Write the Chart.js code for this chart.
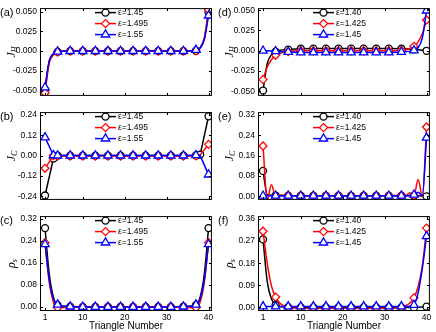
<!DOCTYPE html>
<html>
<head>
<meta charset="utf-8">
<script src="https://cdn.jsdelivr.net/npm/chart.js@4.4.1/dist/chart.umd.min.js"></script>
<style>
  body { margin: 0; background: #fff; }
  #wrap { position: relative; width: 436px; height: 332px; }
  #wrap canvas { position: absolute; }
</style>
</head>
<body>
<div id="wrap">
  <canvas id="pa" width="218" height="104" style="left:0;top:0;width:218px;height:104px"></canvas>
  <canvas id="pb" width="218" height="104" style="left:0;top:104px;width:218px;height:104px"></canvas>
  <canvas id="pc" width="218" height="124" style="left:0;top:208px;width:218px;height:124px"></canvas>
  <canvas id="pd" width="218" height="104" style="left:218px;top:0;width:218px;height:104px"></canvas>
  <canvas id="pe" width="218" height="104" style="left:218px;top:104px;width:218px;height:104px"></canvas>
  <canvas id="pf" width="218" height="124" style="left:218px;top:208px;width:218px;height:124px"></canvas>
</div>
<script>
// legende
var epsLeft = ['ε=1.45', 'ε=1.495', 'ε=1.55'];
var epsRight = ['ε=1.40', 'ε=1.425', 'ε=1.45'];

// etichette degli assi
var xTickLabels = ['1', '10', '20', '30', '40'];
var ticksJH = ['-0.050', '-0.025', '0.000', '0.025', '0.050'];
var ticksJCb = ['-0.24', '-0.12', '0.00', '0.12', '0.24'];
var ticksRhoC = ['0.00', '0.08', '0.16', '0.24', '0.32'];
var ticksJCe = ['0.00', '0.08', '0.16', '0.24', '0.32'];
var ticksRhoF = ['0.00', '0.09', '0.18', '0.27', '0.36'];

// triangoli con simbolo
var markX = [1, 4, 7, 10, 13, 16, 19, 22, 25, 28, 31, 34, 37, 40];
var markXb = [1, 3, 4, 7, 10, 13, 16, 19, 22, 25, 28, 31, 34, 37, 40];
var markXbBlack = [1, 3, 4, 7, 10, 13, 16, 19, 22, 25, 28, 31, 34, 37, 38, 40];

// (a) J_H
var xsA = [1, 2, 3, 4, 7, 10, 13, 16, 19, 22, 25, 28, 31, 34, 37, 38, 39, 40];
var aBlack = [-0.049, -0.013, -0.004, -0.001, 0, 0, 0, 0, 0, 0, 0, 0, 0, 0, 0.0005, 0.004, 0.016, 0.049];
var aRed = [-0.053, -0.015, -0.005, -0.0012, 0, 0, 0, 0, 0, 0, 0, 0, 0, 0, 0.0003, 0.004, 0.017, 0.052];
var aBlue = [-0.046, -0.012, -0.003, -0.0008, 0, 0, 0, 0, 0, 0, 0, 0, 0, 0, 0.0015, 0.004, 0.015, 0.045];

// (b) J_C
var xsB = [1, 3, 4, 7, 10, 13, 16, 19, 22, 25, 28, 31, 34, 37, 38, 40];
var bBlack = [-0.235, -0.017, 0, 0, 0, 0, 0, 0, 0, 0, 0, 0, 0, 0.001, 0.006, 0.231];
var bRed = [-0.075, 0, -0.003, -0.003, -0.003, -0.003, -0.003, -0.003, -0.003, -0.003, -0.003, -0.003, -0.003, -0.002, 0.004, 0.066];
var bBlue = [0.107, 0.002, 0, 0, 0, 0, 0, 0, 0, 0, 0, 0, 0, 0.002, 0, -0.112];

// (c) rho_s
var xsC = [1, 2, 3, 4, 7, 10, 13, 16, 19, 22, 25, 28, 31, 34, 37, 38, 39, 40];
var cBlack = [0.287, 0.12, 0.035, 0.006, 0.001, 0, 0, 0, 0, 0, 0, 0, 0, 0.001, 0.006, 0.035, 0.12, 0.287];
var cRed = [0.234, 0.09, 0.018, -0.003, -0.001, 0, 0, 0, 0, 0, 0, 0, 0, -0.001, -0.003, 0.018, 0.09, 0.234];
var cBlue = [0.228, 0.10, 0.03, 0.008, 0.001, 0, 0, 0, 0, 0, 0, 0, 0, 0.001, 0.008, 0.03, 0.10, 0.228];

// (d) J_H
var xsD = [1, 2, 3, 4, 7, 10, 13, 16, 19, 22, 25, 28, 31, 34, 37, 38, 39, 40];
var dBlack = [-0.049, -0.016, -0.005, -0.001, 0.0015, 0.0025, 0.0027, 0.0027, 0.0027, 0.0027, 0.0027, 0.0027, 0.0027, 0.0025, 0.0018, 0.0012, 0.0006, 0];
var dRed = [-0.0355, -0.02, -0.011, -0.0055, -0.001, 0, 0, 0, 0, 0, 0, 0, 0, 0.0005, 0.0055, 0.011, 0.021, 0.038];
var dBlue = [0, 0, -0.0003, -0.0006, -0.0015, -0.002, -0.002, -0.002, -0.002, -0.002, -0.002, -0.002, -0.002, -0.0015, 0.0005, 0.004, 0.016, 0.0495];

// (e) J_C
var xsE = [1, 2, 3, 4, 5, 7, 10, 13, 16, 19, 22, 25, 28, 31, 34, 35, 36, 37, 38, 39, 40];
var eBlack = [0.10, 0.006, 0.004, 0.003, 0.002, 0.002, 0.002, 0.002, 0.002, 0.002, 0.002, 0.002, 0.002, 0.002, 0.002, 0.002, 0.002, 0.002, 0.002, 0.001, 0];
var eRed = [0.198, -0.016, 0.045, 0, 0.005, 0.003, 0.002, 0.002, 0.002, 0.002, 0.002, 0.002, 0.002, 0.002, 0.004, 0.002, 0.014, 0.003, 0.066, -0.002, 0.273];
var eBlue = [0.002, 0.002, 0.002, 0.002, 0.002, 0.002, 0.002, 0.002, 0.002, 0.002, 0.002, 0.002, 0.002, 0.002, 0.002, 0.002, 0.004, 0.006, 0.016, 0.002, 0.231];

// (f) rho_s
var xsF = [1, 2, 3, 4, 5, 6, 7, 10, 13, 16, 19, 22, 25, 28, 31, 34, 35, 36, 37, 38, 39, 40];
var fBlack = [0.277, 0.105, 0.035, 0.01, 0.004, 0.002, 0.001, 0, 0, 0, 0, 0, 0, 0, 0, 0, 0, 0, 0, 0.001, 0.002, 0.003];
var fRed = [0.31, 0.18, 0.088, 0.042, 0.018, 0.006, 0.001, -0.003, -0.003, -0.003, -0.003, -0.003, -0.003, -0.003, -0.003, 0, 0.007, 0.018, 0.039, 0.085, 0.17, 0.323];
var fBlue = [0.004, 0.004, 0.004, 0.004, 0.004, 0.004, 0.004, 0.004, 0.004, 0.004, 0.004, 0.004, 0.004, 0.004, 0.004, 0.004, 0.004, 0.005, 0.01, 0.06, 0.16, 0.29];

var FONT = '"Liberation Sans", Arial, sans-serif';
var colori = ['#000000', '#ff0000', '#0000ff'];
var simboli = ['circle', 'rectRot', 'triangle'];
var raggi = [3.5, 4, 4.8];

// cornice, tacche interne, lettera, titolo asse y e legenda
var decor = {
    id: 'decor',
    afterDatasetsDraw: function (chart, args, o) {
        var ctx = chart.ctx, a = chart.chartArea;
        var sx = chart.scales.x, sy = chart.scales.y;
        ctx.save();
        ctx.strokeStyle = '#000';
        ctx.lineWidth = 1;
        ctx.strokeRect(a.left + 0.5, a.top + 0.5, a.right - a.left - 1, a.bottom - a.top - 1);
        ctx.beginPath();
        sy.ticks.forEach(function (t) {
            var py = Math.round(sy.getPixelForValue(t.value)) + 0.5;
            ctx.moveTo(a.left, py); ctx.lineTo(a.left + 3, py);
            ctx.moveTo(a.right, py); ctx.lineTo(a.right - 3, py);
        });
        sx.ticks.forEach(function (t) {
            var px = Math.round(sx.getPixelForValue(t.value)) + 0.5;
            ctx.moveTo(px, a.bottom); ctx.lineTo(px, a.bottom - 3);
            ctx.moveTo(px, a.top); ctx.lineTo(px, a.top + 3);
        });
        ctx.stroke();

        // lettera del pannello
        ctx.fillStyle = '#000';
        ctx.font = '11px ' + FONT;
        ctx.textAlign = 'left';
        ctx.textBaseline = 'middle';
        ctx.fillText(o.letter, 0, a.top + 4.5);

        // titolo asse y con pedice
        ctx.save();
        ctx.translate(12, (a.top + a.bottom) / 2);
        ctx.rotate(-Math.PI / 2);
        ctx.font = 'italic 12px "Liberation Serif", serif';
        var w1 = ctx.measureText(o.sym).width;
        ctx.font = 'italic 8px "Liberation Serif", serif';
        var w2 = ctx.measureText(o.sub).width;
        ctx.font = 'italic 12px "Liberation Serif", serif';
        ctx.fillText(o.sym, -(w1 + w2) / 2, 0);
        ctx.font = 'italic 8px "Liberation Serif", serif';
        ctx.fillText(o.sub, -(w1 + w2) / 2 + w1, 3);
        ctx.restore();

        // legenda
        chart.data.datasets.forEach(function (ds, i) {
            var ly = a.top + 4.5 + i * 11;
            ctx.strokeStyle = ds.borderColor;
            ctx.lineWidth = 1.5;
            ctx.beginPath();
            ctx.moveTo(a.left + 55, ly);
            ctx.lineTo(a.left + 76, ly);
            ctx.stroke();
            ctx.fillStyle = '#fff';
            ctx.lineWidth = 1.3;
            Chart.helpers.drawPoint(ctx, { pointStyle: ds.pointStyle, radius: raggi[i], borderWidth: 1.3, rotation: 0 }, a.left + 65.5, ly);
            ctx.fillStyle = '#000';
            ctx.font = '8.5px ' + FONT;
            ctx.textAlign = 'left';
            ctx.textBaseline = 'middle';
            ctx.fillText(ds.label, a.left + 78, ly);
        });
        ctx.restore();
    }
};

function pannello(id, p) {
    var bottomRow = !!p.bottom;
    var datasets = p.ys.map(function (ys, i) {
        var xs = p.xs;
        var marks = p.marks ? p.marks[i] : markX;
        return {
            label: p.labels[i],
            data: ys.map(function (y, k) { return { x: xs[k], y: y }; }),
            borderColor: colori[i],
            backgroundColor: colori[i],
            borderWidth: 1.5,
            pointStyle: simboli[i],
            pointBackgroundColor: '#fff',
            pointBorderColor: colori[i],
            pointBorderWidth: 1.3,
            pointRadius: function (c) {
                return c.raw && marks.indexOf(c.raw.x) >= 0 ? raggi[i] : 0;
            },
            tension: p.straight ? 0 : 0.4,
            cubicInterpolationMode: p.straight ? 'default' : 'monotone',
            order: 3 - i
        };
    });

    new Chart(document.getElementById(id), {
        type: 'line',
        data: { datasets: datasets },
        plugins: [decor],
        options: {
            responsive: false,
            animation: false,
            events: [],
            layout: { padding: { left: 0, right: 5, top: p.padTop, bottom: p.padBottom } },
            scales: {
                x: {
                    type: 'linear',
                    min: -0.2,
                    max: 40.8,
                    grid: { display: false, drawTicks: false },
                    border: { display: false },
                    ticks: {
                        display: bottomRow,
                        color: '#000',
                        font: { family: FONT, size: 8.5 },
                        padding: 2,
                        maxRotation: 0,
                        autoSkip: false,
                        callback: function (v, i) { return xTickLabels[i]; }
                    },
                    afterBuildTicks: function (s) {
                        s.ticks = xTickLabels.map(function (l) { return { value: parseFloat(l) }; });
                    },
                    afterFit: function (s) { s.height = bottomRow ? 21 : 0; },
                    title: {
                        display: bottomRow,
                        text: 'Triangle Number',
                        color: '#000',
                        font: { family: FONT, size: 10 },
                        padding: { top: 0, bottom: 0 }
                    }
                },
                y: {
                    min: p.min,
                    max: p.max,
                    grid: { display: false, drawTicks: false },
                    border: { display: false },
                    ticks: {
                        color: '#000',
                        font: { family: FONT, size: 8.5 },
                        padding: 3,
                        autoSkip: false,
                        callback: function (v, i) { return p.ticks[i]; }
                    },
                    afterBuildTicks: function (s) {
                        s.ticks = p.ticks.map(function (l) { return { value: parseFloat(l) }; });
                    },
                    afterFit: function (s) { s.width = 40; }
                }
            },
            plugins: {
                legend: { display: false },
                tooltip: { enabled: false },
                decor: { letter: p.letter, sym: p.sym, sub: p.sub }
            }
        }
    });
}

pannello('pa', { letter: '(a)', sym: 'J', sub: 'H', labels: epsLeft, xs: xsA, ys: [aBlack, aRed, aBlue],
    ticks: ticksJH, min: -0.0568, max: 0.0545, padTop: 2, padBottom: 4 });
pannello('pb', { letter: '(b)', sym: 'J', sub: 'C', labels: epsLeft, xs: xsB, ys: [bBlack, bRed, bBlue],
    marks: [markXbBlack, markXb, markXb], straight: true,
    ticks: ticksJCb, min: -0.261, max: 0.256, padTop: 3, padBottom: 4 });
pannello('pc', { letter: '(c)', sym: 'ρ', sub: 's', labels: epsLeft, xs: xsC, ys: [cBlack, cRed, cBlue],
    ticks: ticksRhoC, min: -0.015, max: 0.3306, padTop: 5, padBottom: 0, bottom: true });
pannello('pd', { letter: '(d)', sym: 'J', sub: 'H', labels: epsRight, xs: xsD, ys: [dBlack, dRed, dBlue],
    ticks: ticksJH, min: -0.0556, max: 0.0526, padTop: 2, padBottom: 4 });
pannello('pe', { letter: '(e)', sym: 'J', sub: 'C', labels: epsRight, xs: xsE, ys: [eBlack, eRed, eBlue],
    ticks: ticksJCe, min: -0.0142, max: 0.3317, padTop: 3, padBottom: 4 });
pannello('pf', { letter: '(f)', sym: 'ρ', sub: 's', labels: epsRight, xs: xsF, ys: [fBlack, fRed, fBlue],
    ticks: ticksRhoF, min: -0.0145, max: 0.3718, padTop: 5, padBottom: 0, bottom: true });
</script>
</body>
</html>
